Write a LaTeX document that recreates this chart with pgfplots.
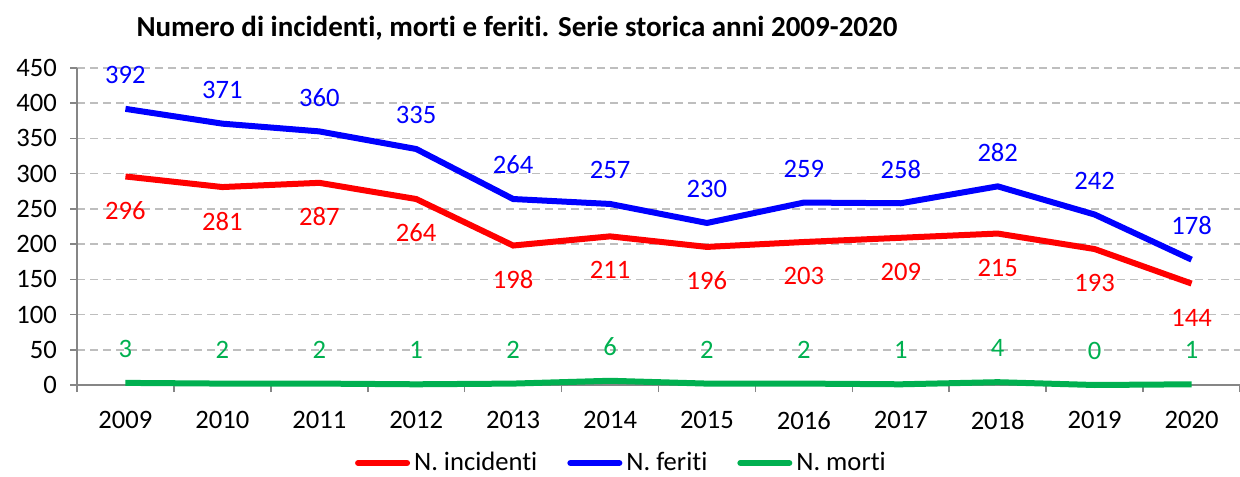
\documentclass[border=0pt]{standalone}
\usepackage{pgfplots}
\pgfplotsset{compat=1.18}
\usepackage{fontspec}
\setmainfont{Carlito}[Ligatures={NoCommon}]
\definecolor{mgreen}{RGB}{0,176,80}
\definecolor{axgray}{RGB}{134,134,134}
\definecolor{gridgray}{RGB}{190,190,190}
\begin{document}
\begin{tikzpicture}
\useasboundingbox (-38.5pt,-45.5pt) rectangle (581.5pt,192.5pt);
\begin{axis}[
  at={(0,0)}, anchor=south west,
  scale only axis, width=581.5pt, height=158.5pt,
  xmin=-0.5, xmax=11.5, ymin=0, ymax=450,
  ytick={0,50,...,450},
  xtick={0,...,11},
  xticklabels={2009,2010,2011,2012,2013,2014,2015,2016,2017,2018,2019,2020},
  minor xtick={-0.5,0.5,...,11.5},
  major x tick style={draw=none},
  tick align=outside,
  major tick length=3.5pt, minor tick length=3.5pt,
  axis x line*=bottom, axis y line*=left,
  axis line style={axgray, line width=0.8pt, -},
  tick style={axgray, line width=0.8pt},
  ymajorgrids, grid style={gridgray, dash pattern=on 4pt off 2.5pt, line width=0.8pt},
  every tick label/.append style={font=\fontsize{13.3}{15}\selectfont, text=black},
  xticklabel style={yshift=-6pt},
  yticklabel style={xshift=-3pt},
  /pgf/number format/assume math mode=true,
  clip=false,
  legend style={at={(0.469,-0.246)}, anchor=center, draw=none, fill=none,
    legend columns=3, font=\fontsize{13.3}{15}\selectfont,
    /tikz/every even column/.append style={column sep=13pt},
    inner sep=0pt},
  legend cell align=left,
  legend image code/.code={\draw[#1, line cap=round] (0pt,0pt) -- (24.5pt,0pt);},
]
\addplot[red, line width=3pt, mark=none,
  nodes near coords, every node near coord/.append style={anchor=center, yshift=-17pt, text=red, font=\fontsize{13.3}{15}\selectfont}]
  coordinates {(0,296)(1,281)(2,287)(3,264)(4,198)(5,211)(6,196)(7,203)(8,209)(9,215)(10,193)(11,144)};
\addlegendentry{N. incidenti}
\addplot[blue, line width=3pt, mark=none,
  nodes near coords, every node near coord/.append style={anchor=center, yshift=17pt, text=blue, font=\fontsize{13.3}{15}\selectfont}]
  coordinates {(0,392)(1,371)(2,360)(3,335)(4,264)(5,257)(6,230)(7,259)(8,258)(9,282)(10,242)(11,178)};
\addlegendentry{N. feriti}
\addplot[mgreen, line width=3pt, mark=none,
  nodes near coords, every node near coord/.append style={anchor=center, yshift=17pt, text=mgreen, font=\fontsize{13.3}{15}\selectfont}]
  coordinates {(0,3)(1,2)(2,2)(3,1)(4,2)(5,6)(6,2)(7,2)(8,1)(9,4)(10,0)(11,1)};
\addlegendentry{N. morti}
\end{axis}
\node[font=\bfseries\fontsize{14.5}{16}\selectfont] at (220pt,178.5pt) {Numero di incidenti, morti e feriti. Serie storica anni 2009-2020};
\end{tikzpicture}
\end{document}
